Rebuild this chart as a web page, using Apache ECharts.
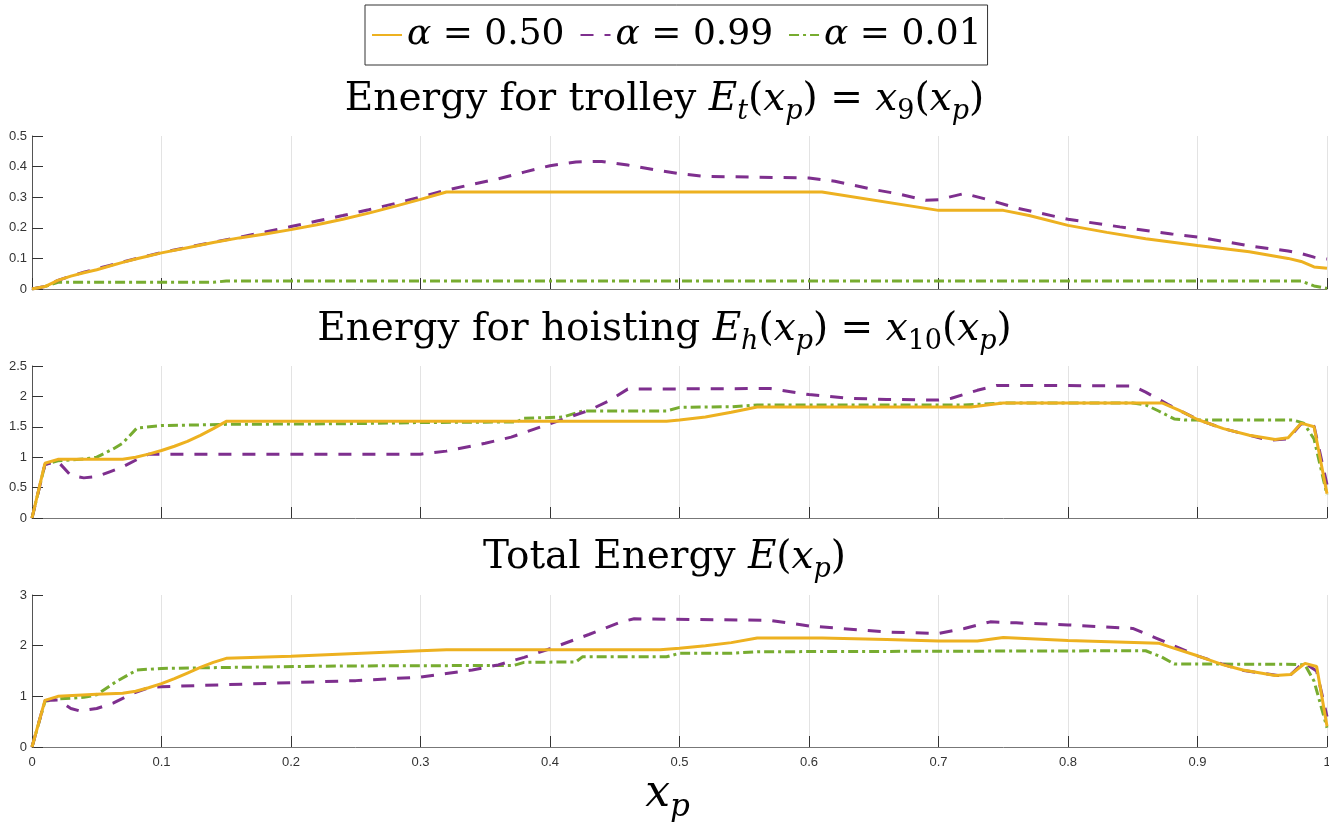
<!DOCTYPE html>
<html lang="en">
<head>
<meta charset="UTF-8">
<title>Energy</title>
<style>
  html, body { margin: 0; padding: 0; background: #fff; }
  #main { width: 1329px; height: 822px; }
</style>
</head>
<body>
<div id="main"></div>
<script src="https://cdn.jsdelivr.net/npm/echarts@6/dist/echarts.min.js"></script>
<script>
// legend values of alpha
var alphaNames = ['0.50', '0.99', '0.01'];

// Energy for trolley, x9(xp)
var trolley50 = [[0,0],[0.01,0.008],[0.02,0.028],[0.03,0.042],[0.04,0.053],[0.05,0.063],[0.06,0.075],[0.07,0.087],[0.08,0.098],[0.09,0.108],[0.1,0.118],[0.12,0.135],[0.14,0.152],[0.16,0.167],[0.18,0.18],[0.2,0.194],[0.22,0.21],[0.24,0.228],[0.26,0.248],[0.28,0.27],[0.3,0.293],[0.32,0.317],[0.61,0.317],[0.7,0.257],[0.75,0.257],[0.77,0.24],[0.8,0.208],[0.83,0.185],[0.86,0.164],[0.9,0.142],[0.94,0.122],[0.97,0.1],[0.98,0.09],[0.99,0.072],[1,0.068]];
var trolley99 = [[0,0],[0.01,0.008],[0.02,0.028],[0.03,0.042],[0.04,0.055],[0.05,0.066],[0.06,0.077],[0.07,0.088],[0.08,0.099],[0.09,0.109],[0.1,0.119],[0.12,0.136],[0.14,0.153],[0.16,0.169],[0.18,0.186],[0.2,0.204],[0.22,0.222],[0.24,0.24],[0.26,0.259],[0.28,0.279],[0.3,0.301],[0.32,0.323],[0.34,0.342],[0.36,0.36],[0.38,0.382],[0.4,0.403],[0.42,0.415],[0.44,0.417],[0.46,0.405],[0.48,0.39],[0.5,0.377],[0.52,0.368],[0.6,0.363],[0.62,0.352],[0.65,0.325],[0.67,0.31],[0.69,0.29],[0.7,0.292],[0.72,0.312],[0.74,0.29],[0.76,0.265],[0.8,0.228],[0.84,0.203],[0.88,0.18],[0.9,0.17],[0.94,0.141],[0.97,0.124],[0.98,0.116],[0.99,0.104],[1,0.098]];
var trolley01 = [[0,0],[0.01,0.008],[0.02,0.022],[0.14,0.022],[0.15,0.026],[0.98,0.026],[0.99,0.01],[1,0.002]];

// Energy for hoisting, x10(xp)
var hoist50 = [[0,0],[0.01,0.9],[0.02,0.965],[0.07,0.965],[0.08,1.0],[0.09,1.05],[0.1,1.11],[0.11,1.18],[0.12,1.26],[0.13,1.36],[0.14,1.47],[0.15,1.59],[0.49,1.59],[0.5,1.61],[0.52,1.66],[0.54,1.74],[0.56,1.826],[0.725,1.826],[0.75,1.89],[0.873,1.89],[0.886,1.77],[0.9,1.62],[0.92,1.47],[0.94,1.36],[0.96,1.29],[0.97,1.32],[0.98,1.56],[0.99,1.5],[1,0.4]];
var hoist99 = [[0,0],[0.01,0.88],[0.02,0.93],[0.03,0.7],[0.04,0.66],[0.05,0.68],[0.06,0.76],[0.07,0.84],[0.08,0.95],[0.09,1.05],[0.3,1.05],[0.32,1.1],[0.35,1.23],[0.37,1.33],[0.4,1.55],[0.43,1.77],[0.445,1.92],[0.46,2.12],[0.57,2.13],[0.6,2.03],[0.63,1.97],[0.66,1.95],[0.7,1.94],[0.71,1.97],[0.73,2.1],[0.745,2.18],[0.79,2.18],[0.85,2.17],[0.86,2.07],[0.877,1.87],[0.9,1.62],[0.92,1.47],[0.94,1.36],[0.955,1.28],[0.97,1.3],[0.98,1.55],[0.99,1.51],[1,0.55]];
var hoist01 = [[0,0],[0.01,0.88],[0.02,0.94],[0.04,0.97],[0.05,1.0],[0.063,1.14],[0.07,1.23],[0.081,1.48],[0.1,1.52],[0.15,1.54],[0.24,1.55],[0.3,1.57],[0.374,1.58],[0.38,1.64],[0.41,1.66],[0.425,1.76],[0.49,1.76],[0.5,1.82],[0.54,1.83],[0.56,1.86],[0.72,1.86],[0.75,1.89],[0.85,1.89],[0.86,1.86],[0.87,1.76],[0.882,1.63],[0.89,1.61],[0.974,1.61],[0.982,1.56],[0.99,1.3],[1,0.38]];

// Total energy E(xp)
var total50 = [[0,0],[0.01,0.92],[0.02,1.0],[0.05,1.04],[0.07,1.06],[0.08,1.1],[0.09,1.17],[0.1,1.25],[0.11,1.35],[0.12,1.46],[0.13,1.57],[0.14,1.67],[0.15,1.75],[0.2,1.79],[0.3,1.9],[0.32,1.92],[0.485,1.92],[0.5,1.95],[0.52,2.0],[0.54,2.06],[0.56,2.15],[0.61,2.15],[0.66,2.12],[0.7,2.09],[0.73,2.09],[0.75,2.16],[0.8,2.1],[0.87,2.05],[0.878,1.98],[0.9,1.8],[0.92,1.62],[0.935,1.52],[0.96,1.41],[0.972,1.43],[0.983,1.65],[0.992,1.59],[1,0.41]];
var total99 = [[0,0],[0.01,0.92],[0.02,0.93],[0.03,0.76],[0.037,0.71],[0.05,0.76],[0.063,0.87],[0.078,1.06],[0.09,1.17],[0.1,1.19],[0.15,1.23],[0.2,1.27],[0.25,1.31],[0.3,1.38],[0.32,1.45],[0.34,1.52],[0.36,1.62],[0.38,1.77],[0.4,1.94],[0.43,2.22],[0.455,2.47],[0.465,2.53],[0.57,2.5],[0.6,2.39],[0.66,2.27],[0.7,2.24],[0.72,2.34],[0.74,2.47],[0.76,2.45],[0.8,2.41],[0.85,2.34],[0.868,2.15],[0.9,1.8],[0.933,1.52],[0.962,1.41],[0.972,1.43],[0.982,1.67],[0.992,1.5],[1,0.6]];
var total01 = [[0,0],[0.01,0.9],[0.02,0.95],[0.04,0.98],[0.05,1.03],[0.065,1.29],[0.081,1.52],[0.1,1.55],[0.15,1.57],[0.245,1.6],[0.372,1.61],[0.38,1.67],[0.42,1.68],[0.425,1.78],[0.49,1.78],[0.5,1.85],[0.54,1.85],[0.56,1.88],[0.7,1.89],[0.86,1.9],[0.872,1.78],[0.882,1.64],[0.976,1.63],[0.983,1.62],[0.99,1.3],[1,0.38]];

// y-axis ranges of the three panels
var yMax = [0.5, 2.5, 3];
var yStep = [0.1, 0.5, 1];

var SERIF = 'DejaVu Serif';
var SANS = 'Liberation Sans';
var colors = ['#EDB120', '#7E2F8E', '#77AC30'];
var dashes = ['solid', [13, 11], [10, 4, 3, 4]];

function mathStyles(size) {
    var sub = Math.round(size * 0.7);
    return {
        t: { fontFamily: SERIF, fontSize: size, fontWeight: 'normal', lineHeight: size + 12, color: '#000' },
        i: { fontFamily: SERIF, fontSize: size, fontWeight: 'normal', lineHeight: size + 12, fontStyle: 'italic', color: '#000' },
        s: { fontFamily: SERIF, fontSize: sub, fontWeight: 'normal', lineHeight: sub, fontStyle: 'italic', verticalAlign: 'bottom', color: '#000' },
        su: { fontFamily: SERIF, fontSize: sub, fontWeight: 'normal', lineHeight: sub, verticalAlign: 'bottom', color: '#000' }
    };
}
var titleRich = mathStyles(39);

var myChart = echarts.init(document.getElementById('main'));

var grids = [
    { left: 32, right: 2, top: 136, height: 153, outerBoundsMode: 'none' },
    { left: 32, right: 2, top: 366, height: 152, outerBoundsMode: 'none' },
    { left: 32, right: 2, top: 595, height: 152, outerBoundsMode: 'none' }
];

var xAxes = [], yAxes = [], series = [];
var panels = [
    [trolley50, trolley99, trolley01],
    [hoist50, hoist99, hoist01],
    [total50, total99, total01]
];

for (var g = 0; g < 3; g++) {
    xAxes.push({
        type: 'value', gridIndex: g, min: 0, max: 1, interval: 0.1,
        axisLine: { lineStyle: { color: '#777', width: 1 } },
        axisTick: { inside: true, length: 11, lineStyle: { color: '#333' } },
        splitLine: { show: true, lineStyle: { color: '#e3e3e3', width: 1 } },
        axisLabel: { show: g === 2, fontFamily: SANS, fontSize: 13, color: '#333', margin: 9 },
        name: g === 2 ? '{i|x}{s|p}' : '',
        nameLocation: 'middle', nameGap: 20,
        nameTextStyle: { padding: [0, 24, 0, 0], rich: mathStyles(44) }
    });
    yAxes.push({
        type: 'value', gridIndex: g, min: 0, max: yMax[g], interval: yStep[g],
        axisLine: { show: true, lineStyle: { color: '#555', width: 1 } },
        axisTick: { show: true, inside: true, length: 11, lineStyle: { color: '#333' } },
        splitLine: { show: false },
        axisLabel: { fontFamily: SANS, fontSize: 13, color: '#333', margin: 5 }
    });
    for (var k = 0; k < 3; k++) {
        series.push({
            name: alphaNames[k],
            type: 'line',
            xAxisIndex: g, yAxisIndex: g,
            data: panels[g][k],
            symbol: 'none',
            silent: true,
            z: 3 - k,
            lineStyle: { color: colors[k], width: 3, type: dashes[k] },
            itemStyle: { color: colors[k] }
        });
    }
}

option = {
    animation: false,
    backgroundColor: '#fff',
    title: [
        {
            left: 'center', top: 74, padding: 0,
            text: '{t|Energy for trolley }{i|E}{s|t}{t|(}{i|x}{s|p}{t|) = }{i|x}{su|9}{t|(}{i|x}{s|p}{t|)}',
            textStyle: { fontWeight: 'normal', rich: titleRich }
        },
        {
            left: 'center', top: 304, padding: 0,
            text: '{t|Energy for hoisting }{i|E}{s|h}{t|(}{i|x}{s|p}{t|) = }{i|x}{su|10}{t|(}{i|x}{s|p}{t|)}',
            textStyle: { fontWeight: 'normal', rich: titleRich }
        },
        {
            left: 'center', top: 532, padding: 0,
            text: '{t|Total Energy }{i|E}{t|(}{i|x}{s|p}{t|)}',
            textStyle: { fontWeight: 'normal', rich: titleRich }
        }
    ],
    legend: {
        data: alphaNames,
        top: 5, left: 365,
        backgroundColor: '#fff',
        borderColor: '#333', borderWidth: 1,
        padding: [12, 6, 12, 6],
        itemGap: 15, itemWidth: 30, itemHeight: 14,
        itemStyle: { opacity: 0 },
        formatter: function (name) { return '{a|α} = ' + name; },
        textStyle: {
            fontFamily: SERIF, fontSize: 36, color: '#000',
            rich: { a: { fontFamily: SERIF, fontSize: 36, fontStyle: 'italic', color: '#000' } }
        }
    },
    grid: grids,
    xAxis: xAxes,
    yAxis: yAxes,
    series: series
};
myChart.setOption(option);
</script>
</body>
</html>
